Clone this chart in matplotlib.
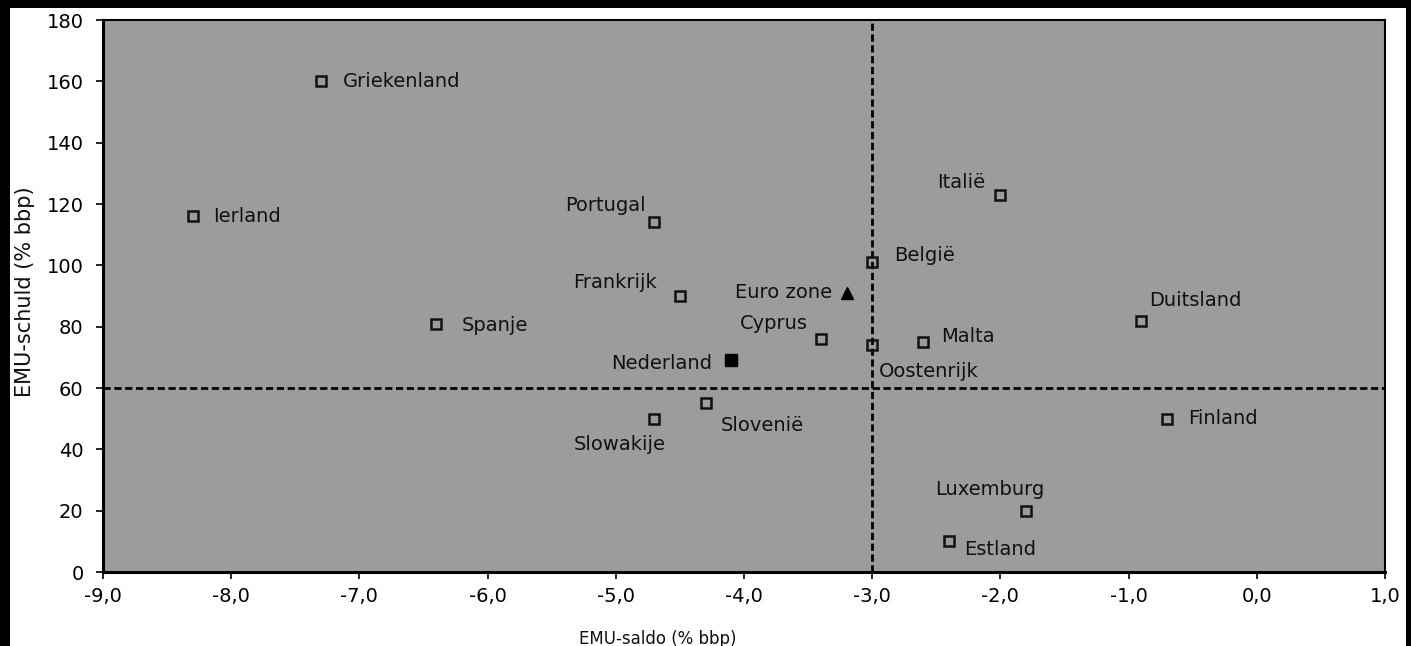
import matplotlib
matplotlib.use("Agg")
import matplotlib.pyplot as plt
from matplotlib.patches import Rectangle

# ---- data ----
countries = ["Griekenland", "Ierland", "Spanje", "Portugal", "Frankrijk",
             "Cyprus", "België", "Oostenrijk", "Malta", "Italië",
             "Duitsland", "Finland", "Luxemburg", "Estland", "Slowakije",
             "Slovenië"]
saldo = [-7.3, -8.3, -6.4, -4.7, -4.5, -3.4, -3.0, -3.0, -2.6, -2.0,
         -0.9, -0.7, -1.8, -2.4, -4.7, -4.3]
schuld = [160, 116, 81, 114, 90, 76, 101, 74, 75, 123, 82, 50, 20, 10, 50, 55]

nl_name, nl_saldo, nl_schuld = "Nederland", -4.1, 69
ez_name, ez_saldo, ez_schuld = "Euro zone", -3.2, 91

xticks = [-9, -8, -7, -6, -5, -4, -3, -2, -1, 0, 1]
xticklabels = ["-9,0", "-8,0", "-7,0", "-6,0", "-5,0", "-4,0", "-3,0",
               "-2,0", "-1,0", "0,0", "1,0"]
yticks = [0, 20, 40, 60, 80, 100, 120, 140, 160, 180]
ref_saldo = -3.0
ref_schuld = 60

# label placement (offset in pixels, ha)
px = 0.72
label_pos = {
    "Griekenland": (22, 0, "left"),
    "Ierland": (20, 0, "left"),
    "Spanje": (25, -2, "left"),
    "Portugal": (-9, 17, "right"),
    "Frankrijk": (-23, 14, "right"),
    "Cyprus": (-13, 15, "right"),
    "België": (22, 7, "left"),
    "Oostenrijk": (7, -26, "left"),
    "Malta": (18, 5, "left"),
    "Italië": (-15, 12, "right"),
    "Duitsland": (8, 20, "left"),
    "Finland": (21, 0, "left"),
    "Luxemburg": (18, 21, "right"),
    "Estland": (15, -8, "left"),
    "Slowakije": (11, -26, "right"),
    "Slovenië": (15, -22, "left"),
    "Nederland": (-19, -3, "right"),
    "Euro zone": (-14, 0, "right"),
}

W, H = 1411, 646
fig = plt.figure(figsize=(W / 100, H / 100), dpi=100, facecolor="black")
fig.patches.append(Rectangle((10 / W, 0), (1406 - 10) / W, (H - 8) / H,
                             transform=fig.transFigure, facecolor="white",
                             edgecolor="none", zorder=-10))

ax = fig.add_axes([103 / W, (H - 572) / H, (1385 - 103) / W, (572 - 20) / H])
ax.set_facecolor("#9c9c9c")

ax.axvline(ref_saldo, color="black", lw=2, linestyle=(0, (2.6, 1.3)), zorder=2)
ax.axhline(ref_schuld, color="black", lw=2, linestyle=(0, (2.6, 1.3)), zorder=2)

ax.plot(saldo, schuld, linestyle="none", marker="s", markersize=7.5,
        markerfacecolor="none", markeredgecolor="#111111", markeredgewidth=1.8,
        zorder=3)
ax.plot([nl_saldo], [nl_schuld], linestyle="none", marker="s", markersize=9,
        markerfacecolor="black", markeredgecolor="black", zorder=3)
ax.plot([ez_saldo], [ez_schuld], linestyle="none", marker="^", markersize=9,
        markerfacecolor="black", markeredgecolor="black", zorder=3)

names = countries + [nl_name, ez_name]
xs = saldo + [nl_saldo, ez_saldo]
ys = schuld + [nl_schuld, ez_schuld]
for n, x, y in zip(names, xs, ys):
    dx, dy, ha = label_pos[n]
    ax.annotate(n, (x, y), xytext=(dx * px, dy * px), textcoords="offset points",
                ha=ha, va="center", fontsize=14, color="#111111",
                family="DejaVu Sans")

ax.set_xlim(-9, 1)
ax.set_ylim(0, 180)
ax.set_xticks(xticks)
ax.set_xticklabels(xticklabels)
ax.set_yticks(yticks)
ax.tick_params(axis="both", direction="out", length=5, width=1.2,
               colors="black", labelsize=14)
ax.tick_params(axis="x", pad=6)
ax.tick_params(axis="y", pad=9)
for s in ax.spines.values():
    s.set_color("black")
    s.set_linewidth(1.5)
ax.spines["left"].set_linewidth(2.2)
ax.spines["bottom"].set_linewidth(2.2)

fig.text((580 + 735) / 2 / W, 1 - 639 / H, "EMU-saldo (% bbp)", ha="center",
         va="center", fontsize=12, color="#111111")
fig.text(25 / W, 1 - 292 / H, "EMU-schuld (% bbp)", ha="center", va="center",
         rotation=90, fontsize=15, color="#111111")

fig.savefig("out.png", dpi=100, facecolor=fig.get_facecolor())
